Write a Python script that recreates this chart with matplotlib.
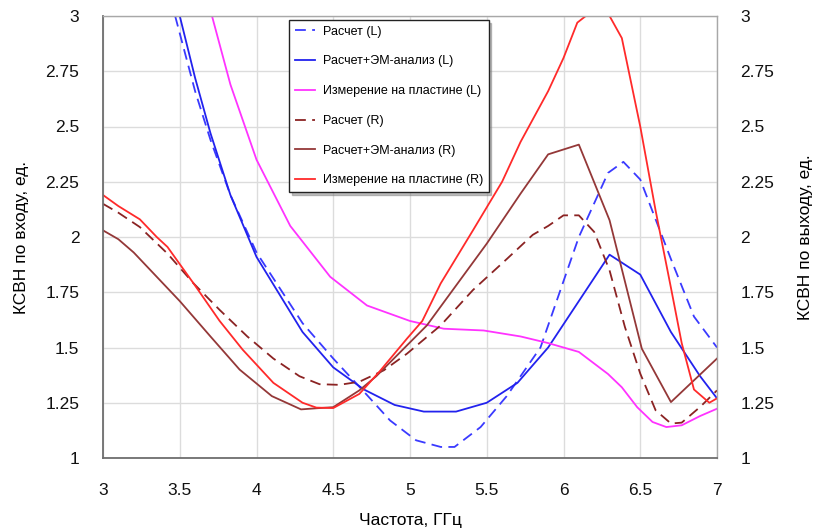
import matplotlib
matplotlib.use("Agg")
import matplotlib.pyplot as plt
from matplotlib.ticker import MultipleLocator

plt.rcParams["font.family"] = ["Liberation Sans", "DejaVu Sans"]

# --- данные ---
f_calc_l = [3.47, 3.6, 3.7, 3.83, 4.0, 4.15, 4.3, 4.5, 4.7, 4.87, 5.04, 5.2, 5.29,
            5.46, 5.63, 5.85, 6.1, 6.29, 6.39, 6.5, 6.7, 6.85, 7.0]
v_calc_l = [3.0, 2.66, 2.44, 2.19, 1.93, 1.77, 1.61, 1.45, 1.30, 1.17, 1.08, 1.05, 1.05,
            1.14, 1.28, 1.50, 2.00, 2.29, 2.34, 2.26, 1.90, 1.64, 1.50]

f_em_l = [3.5, 3.6, 3.7, 3.83, 4.0, 4.15, 4.3, 4.5, 4.7, 4.9, 5.09, 5.3, 5.5, 5.7,
          5.9, 6.3, 6.5, 6.7, 6.89, 7.0]
v_em_l = [3.0, 2.72, 2.47, 2.19, 1.91, 1.74, 1.57, 1.41, 1.31, 1.24, 1.21, 1.21, 1.25, 1.34,
          1.50, 1.92, 1.83, 1.57, 1.37, 1.27]

f_meas_l = [3.71, 3.83, 4.0, 4.22, 4.48, 4.72, 5.0, 5.22, 5.48, 5.72, 5.9, 6.1, 6.29,
            6.38, 6.48, 6.58, 6.67, 6.77, 6.89, 7.0]
v_meas_l = [3.0, 2.69, 2.35, 2.05, 1.82, 1.69, 1.62, 1.585, 1.577, 1.55, 1.52, 1.48, 1.38,
            1.32, 1.23, 1.163, 1.14, 1.148, 1.19, 1.223]

f_calc_r = [3.0, 3.1, 3.24, 3.42, 3.59, 3.76, 3.94, 4.11, 4.28, 4.41, 4.54, 4.67, 4.83,
            4.98, 5.2, 5.41, 5.63, 5.8, 5.9, 6.0, 6.1, 6.2, 6.3, 6.4, 6.5, 6.6, 6.7,
            6.77, 6.89, 7.0]
v_calc_r = [2.15, 2.11, 2.045, 1.925, 1.79, 1.67, 1.55, 1.45, 1.37, 1.334, 1.331, 1.345, 1.397,
            1.472, 1.60, 1.76, 1.90, 2.01, 2.05, 2.098, 2.098, 2.023, 1.849, 1.593, 1.382,
            1.216, 1.156, 1.16, 1.231, 1.306]

f_em_r = [3.0, 3.1, 3.2, 3.5, 3.7, 3.89, 4.1, 4.29, 4.39, 4.5, 4.67, 4.78, 5.11, 5.5,
          5.72, 5.9, 6.1, 6.3, 6.51, 6.7, 7.0]
v_em_r = [2.03, 1.99, 1.93, 1.71, 1.55, 1.40, 1.28, 1.22, 1.225, 1.23, 1.306, 1.37, 1.60, 1.97,
          2.196, 2.374, 2.418, 2.076, 1.495, 1.253, 1.45]

f_meas_r = [3.0, 3.1, 3.24, 3.35, 3.42, 3.59, 3.76, 3.91, 4.11, 4.3, 4.39, 4.5, 4.67, 4.8,
            4.98, 5.08, 5.2, 5.41, 5.6, 5.72, 5.9, 6.0, 6.09, 6.2, 6.3, 6.38, 6.5, 6.6,
            6.7, 6.77, 6.85, 6.95, 7.0]
v_meas_r = [2.19, 2.14, 2.08, 2.0, 1.955, 1.79, 1.62, 1.49, 1.34, 1.25, 1.228, 1.226, 1.29, 1.39,
            1.54, 1.62, 1.79, 2.03, 2.25, 2.43, 2.66, 2.81, 2.97, 3.03, 3.0, 2.90, 2.50, 2.12,
            1.77, 1.52, 1.31, 1.25, 1.27]

labels = ["Расчет (L)", "Расчет+ЭМ-анализ (L)", "Измерение на пластине (L)",
          "Расчет (R)", "Расчет+ЭМ-анализ (R)", "Измерение на пластине (R)"]

fig = plt.figure(figsize=(8.18, 5.32), dpi=100)
ax = fig.add_axes([103 / 818, 1 - 458 / 532, 614 / 818, 442 / 532])

lw = 1.3
dash = (6, 3.5)
ax.plot(f_calc_l, v_calc_l, color="#3a3aff", lw=lw, dashes=dash, label=labels[0])
ax.plot(f_em_l, v_em_l, color="#2222ee", lw=lw, label=labels[1])
ax.plot(f_meas_l, v_meas_l, color="#ff33ff", lw=lw, label=labels[2])
ax.plot(f_calc_r, v_calc_r, color="#8b2323", lw=lw, dashes=dash, label=labels[3])
ax.plot(f_em_r, v_em_r, color="#943838", lw=lw, label=labels[4])
ax.plot(f_meas_r, v_meas_r, color="#ff2a2a", lw=lw, label=labels[5])

ax.set_xlim(3, 7)
ax.set_ylim(1, 3)
ax.xaxis.set_major_locator(MultipleLocator(0.5))
ax.yaxis.set_major_locator(MultipleLocator(0.25))
ax.xaxis.set_major_formatter(plt.FuncFormatter(lambda v, p: f"{v:g}"))
ax.yaxis.set_major_formatter(plt.FuncFormatter(lambda v, p: f"{v:g}"))
ax.grid(True, color="#dcdcdc", lw=1.0)
ax.set_axisbelow(True)

ax.tick_params(axis="both", length=0, labelsize=12.5, colors="#111111")
ax.tick_params(axis="y", pad=17)
ax.tick_params(axis="x", pad=18)

for side in ("left", "bottom"):
    ax.spines[side].set_color("#6e6e6e")
    ax.spines[side].set_linewidth(1.3)
for side in ("top", "right"):
    ax.spines[side].set_color("#a8a8a8")
    ax.spines[side].set_linewidth(1.0)

# правая ось — те же значения
ax2 = ax.twinx()
ax2.set_ylim(1, 3)
ax2.yaxis.set_major_locator(MultipleLocator(0.25))
ax2.yaxis.set_major_formatter(plt.FuncFormatter(lambda v, p: f"{v:g}"))
ax2.tick_params(axis="y", length=0, labelsize=12.5, pad=17, colors="#111111")
for s in ax2.spines.values():
    s.set_visible(False)

ax.set_xlabel("Частота, ГГц", fontsize=12.5, labelpad=11)
ax.set_ylabel("КСВН по входу, ед.", fontsize=12.5, labelpad=12)
ax2.set_ylabel("КСВН по выходу, ед.", fontsize=12.5, labelpad=17)

leg = ax.legend(loc="upper left", bbox_to_anchor=(289 / 818, 1 - 20 / 532),
                bbox_transform=fig.transFigure, borderaxespad=0, fontsize=9,
                frameon=True, fancybox=False, shadow={"color": "#808080"},
                framealpha=1, edgecolor="#222222", handlelength=1.6,
                handletextpad=0.65, labelspacing=1.42, borderpad=0.45)
leg.get_frame().set_linewidth(1.0)

fig.savefig("out.png", dpi=100)
